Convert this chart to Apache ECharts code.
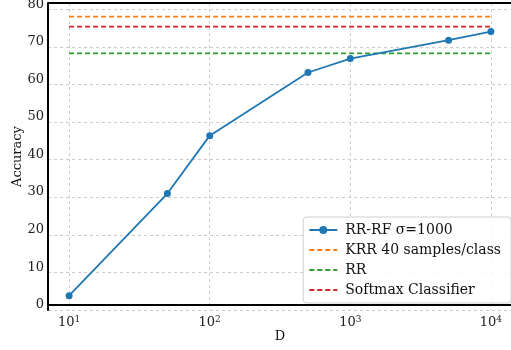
<!DOCTYPE html>
<html>
<head>
<meta charset="utf-8">
<script src="https://cdn.jsdelivr.net/npm/echarts@6/dist/echarts.min.js"></script>
<style>
  html, body { margin: 0; padding: 0; background: #fff; }
  #chart { width: 511px; height: 350px; }
</style>
</head>
<body>
<div id="chart"></div>
<script>
// values
const dims = [10, 50, 100, 500, 1000, 5000, 10000];
const rrRfAcc = [2.4, 29.6, 45.0, 61.8, 65.5, 70.4, 72.7];
const krrAcc = 76.7;
const rrAcc = 66.9;
const softmaxAcc = 74.0;
const lineSpan = [10, 10000];
const yTicks = [0, 10, 20, 30, 40, 50, 60, 70, 80];

const FONT = 'DejaVu Serif';

function flat(val) {
  return lineSpan.map(x => [x, val]);
}

function dashed(name, color, val) {
  return {
    name: name,
    type: 'line',
    data: flat(val),
    symbol: 'none',
    lineStyle: { color: color, width: 1.7, type: [5, 3] },
    itemStyle: { color: color },
    z: 2
  };
}

const chart = echarts.init(document.getElementById('chart'));
chart.setOption({
  animation: false,
  grid: { left: 48, right: -1, top: 3, bottom: 40, outerBoundsMode: 'none', containLabel: false },
  xAxis: {
    type: 'log',
    logBase: 10,
    min: Math.pow(10, 0.85),
    max: Math.pow(10, 4.15),
    name: 'D',
    nameLocation: 'middle',
    nameGap: 20,
    nameMoveOverlap: false,
    nameTextStyle: { fontFamily: FONT, fontSize: 13, color: '#111' },
    axisLine: { lineStyle: { color: '#000', width: 2 } },
    axisTick: { show: false },
    axisLabel: {
      fontFamily: FONT, fontSize: 13, color: '#222', margin: 5,
      showMinLabel: false, showMaxLabel: false,
      formatter: v => {
        const e = Math.round(Math.log10(v));
        return '10{s|' + e + '}';
      },
      rich: { s: { fontFamily: FONT, fontSize: 9, verticalAlign: 'top', padding: [0, 0, 6, 0] } }
    },
    splitLine: { show: true, lineStyle: { color: '#cccccc', type: [3, 3], width: 1 } }
  },
  yAxis: {
    type: 'value',
    min: -1.4,
    max: 80.3,
    interval: 10,
    name: 'Accuracy',
    nameLocation: 'middle',
    nameGap: 24,
    nameMoveOverlap: false,
    nameTextStyle: { fontFamily: FONT, fontSize: 13, color: '#111' },
    axisLine: { show: true, lineStyle: { color: '#000', width: 2 } },
    axisTick: { show: false },
    axisLabel: {
      fontFamily: FONT, fontSize: 13, color: '#222', margin: 4,
      customValues: yTicks
    },
    splitLine: { show: true, lineStyle: { color: '#cccccc', type: [3, 3], width: 1 } }
  },
  legend: {
    right: 0,
    bottom: 47,
    orient: 'vertical',
    itemWidth: 28,
    itemHeight: 10,
    itemGap: 6,
    padding: [6, 10, 6, 5],
    backgroundColor: 'rgba(255,255,255,0.85)',
    borderColor: '#d0d0d0',
    borderWidth: 1,
    borderRadius: 3,
    textStyle: { fontFamily: FONT, fontSize: 14, color: '#111', padding: [0, 0, 0, 3] },
    data: [
      { name: 'RR-RF σ=1000' },
      { name: 'KRR 40 samples/class', itemStyle: { opacity: 0 } },
      { name: 'RR', itemStyle: { opacity: 0 } },
      { name: 'Softmax Classifier', itemStyle: { opacity: 0 } }
    ]
  },
  graphic: [
    {
      type: 'line',
      shape: { x1: 48, y1: 3, x2: 511, y2: 3 },
      style: { stroke: '#000', lineWidth: 2 },
      z: 10
    }
  ],
  series: [
    {
      name: 'RR-RF σ=1000',
      type: 'line',
      data: dims.map((d, i) => [d, rrRfAcc[i]]),
      symbol: 'circle',
      symbolSize: 7,
      lineStyle: { color: '#1f77b4', width: 1.8 },
      itemStyle: { color: '#1f77b4' },
      z: 3
    },
    dashed('KRR 40 samples/class', '#ff7f0e', krrAcc),
    dashed('RR', '#2ca02c', rrAcc),
    dashed('Softmax Classifier', '#d62728', softmaxAcc)
  ]
});
</script>
</body>
</html>
